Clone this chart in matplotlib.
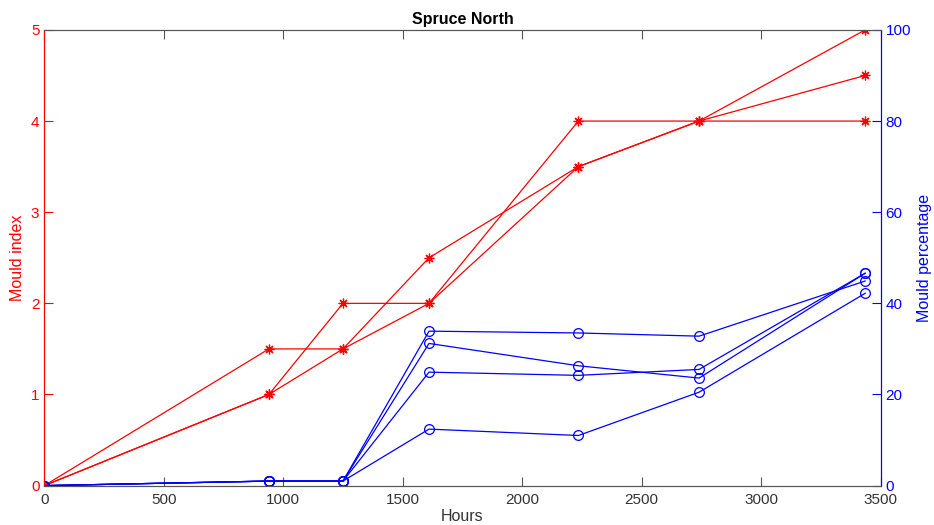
import matplotlib
matplotlib.use("Agg")
import matplotlib.pyplot as plt

plt.rcParams['font.family'] = ['Liberation Sans', 'DejaVu Sans']

# sampling times (hours)
hours = [0, 940, 1250, 1610, 2235, 2740, 3435]

# mould index, three specimens
index_a = [0, 1.5, 1.5, 2.5, 3.5, 4.0, 5.0]
index_b = [0, 1.0, 2.0, 2.0, 4.0, 4.0, 4.0]
index_c = [0, 1.0, 1.5, 2.0, 3.5, 4.0, 4.5]

# mould percentage, four specimens
pct_a = [0, 1.0, 1.0, 33.9, 33.5, 32.8, 44.9]
pct_b = [0, 1.0, 1.0, 31.2, 26.3, 23.6, 46.6]
pct_c = [0, 1.0, 1.0, 24.9, 24.2, 25.5, 46.6]
pct_d = [0, 1.0, 1.0, 12.4, 11.0, 20.5, 42.2]

red = (1, 0, 0)
blue = (0, 0, 1)
grey = '#555555'
asterisk = (8, 2, 0)  # eight-armed asterisk marker

fig = plt.figure(figsize=(9.34, 5.25), dpi=100)
ax = fig.add_axes([0.0474, 0.075, 0.8955, 0.868])
ax2 = ax.twinx()

for s in (index_a, index_b, index_c):
    ax.plot(hours, s, color=red, lw=0.9, marker=asterisk, ms=7, mew=0.9)
for s in (pct_a, pct_b, pct_c, pct_d):
    ax2.plot(hours, s, color=blue, lw=0.9, marker='o', ms=7, mfc='none', mew=0.9)

ax.set_xlim(0, 3500)
ax.set_ylim(0, 5)
ax2.set_ylim(0, 100)
ax.set_xticks(range(0, 3501, 500))
ax.set_yticks(range(0, 6))
ax2.set_yticks(range(0, 101, 20))

ax.tick_params(axis='x', direction='in', length=6.5, colors=grey, labelcolor='#333333',
               labelsize=11, top=True, width=0.8, pad=5)
ax.tick_params(axis='y', direction='in', length=6.5, colors=red, labelsize=11, width=0.8)
ax2.tick_params(axis='y', direction='in', length=6.5, colors=blue, labelsize=11, width=0.8)
ax2.tick_params(axis='x', top=False, bottom=False)

for a in (ax, ax2):
    a.spines['bottom'].set_color(grey)
    a.spines['top'].set_color(grey)
    a.spines['left'].set_color(red)
    a.spines['right'].set_color(blue)
    for sp in a.spines.values():
        sp.set_linewidth(0.8)

ax.set_xlabel('Hours', fontsize=11.5, color='#333333', labelpad=2)
ax.set_ylabel('Mould index', fontsize=11.5, color=red, labelpad=4)
ax2.set_ylabel('Mould percentage', fontsize=11.5, color=blue, labelpad=4)
ax.set_title('Spruce North', fontsize=11.5, fontweight='bold', pad=4)

fig.savefig('out.png', dpi=100)
